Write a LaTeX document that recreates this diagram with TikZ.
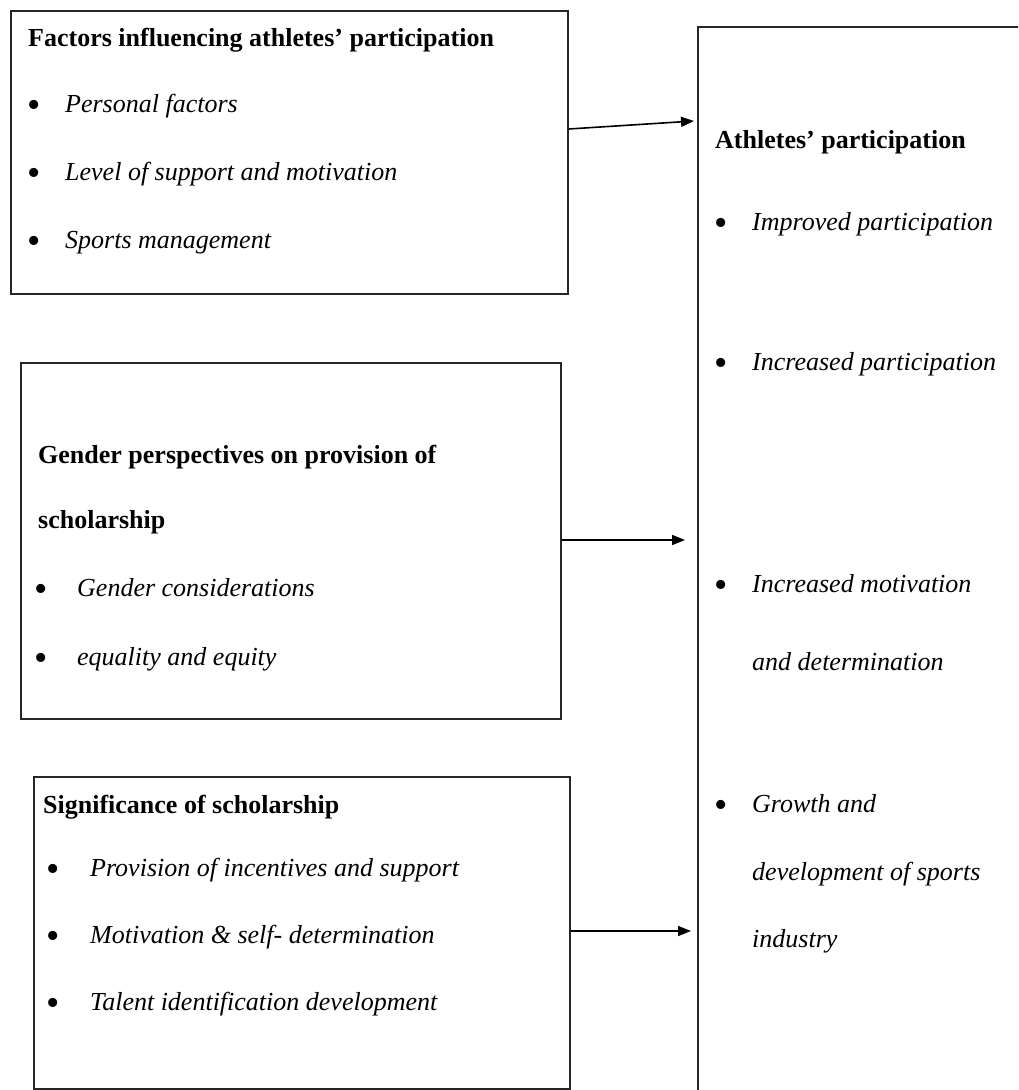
\documentclass[tikz,border=0pt]{standalone}
\usepackage{fontspec}
\setmainfont{Liberation Serif}
\usetikzlibrary{arrows.meta}
\begin{document}
\begin{tikzpicture}[x=1pt,y=-1pt,
  box/.style={draw=black!85,line width=1.8pt,inner sep=0pt,anchor=north west},
  ttl/.style={anchor=base west,inner sep=0pt,font=\fontsize{26}{30}\selectfont\bfseries},
  itm/.style={anchor=base west,inner sep=0pt,font=\fontsize{26}{30}\selectfont\itshape},
  bul/.style={anchor=base,inner sep=0pt,yshift=-5pt,font=\fontsize{38}{38}\selectfont},
  arr/.style={line width=1.6pt,-{Triangle[length=13pt,width=10pt]}}]
\clip (0,0) rectangle (1018,1090);
\fill[white] (0,0) rectangle (1018,1090);
% boxes
\node[box,minimum width=557pt,minimum height=283pt] (b1) at (10,10) {};
\node[box,minimum width=540pt,minimum height=356pt] (b2) at (20,362) {};
\node[box,minimum width=536pt,minimum height=312pt] (b3) at (33,776) {};
\node[box,minimum width=420pt,minimum height=1120pt] (rb) at (697,26) {};
% box 1 text
\node[ttl] (t1) at (28,46) {Factors influencing athletes’ participation};
\node[bul] (b1d1) at (34,112) {\textbullet};
\node[itm] (b1i1) at (65,112) {Personal factors};
\node[bul] (b1d2) at (34,180) {\textbullet};
\node[itm] (b1i2) at (65,180) {Level of support and motivation};
\node[bul] (b1d3) at (34,248) {\textbullet};
\node[itm] (b1i3) at (65,248) {Sports management};
% box 2 text
\node[ttl] (t2a) at (38,463) {Gender perspectives on provision of};
\node[ttl] (t2b) at (38,528) {scholarship};
\node[bul] (b2d1) at (41,596) {\textbullet};
\node[itm] (b2i1) at (77,596) {Gender considerations};
\node[bul] (b2d2) at (41,665) {\textbullet};
\node[itm] (b2i2) at (77,665) {equality and equity};
% box 3 text
\node[ttl] (t3) at (43,813) {Significance of scholarship};
\node[bul] (b3d1) at (53,876) {\textbullet};
\node[itm] (b3i1) at (90,876) {Provision of incentives and support};
\node[bul] (b3d2) at (53,943) {\textbullet};
\node[itm] (b3i2) at (90,943) {Motivation \& self- determination};
\node[bul] (b3d3) at (53,1010) {\textbullet};
\node[itm] (b3i3) at (90,1010) {Talent identification development};
% right box text
\node[ttl] (t4) at (715,148) {Athletes’ participation};
\node[bul] (rd1) at (721,230) {\textbullet};
\node[itm] (ri1) at (752,230) {Improved participation};
\node[bul] (rd2) at (721,370) {\textbullet};
\node[itm] (ri2) at (752,370) {Increased participation};
\node[bul] (rd3) at (721,592) {\textbullet};
\node[itm] (ri3a) at (752,592) {Increased motivation};
\node[itm] (ri3b) at (752,670) {and determination};
\node[bul] (rd4) at (721,812) {\textbullet};
\node[itm] (ri4a) at (752,812) {Growth and};
\node[itm] (ri4b) at (752,880) {development of sports};
\node[itm] (ri4c) at (752,947) {industry};
% arrows
\draw[arr] ([yshift=-119pt]b1.north east) -- ([xshift=-3pt,yshift=-95pt]rb.north west);
\draw[arr] ([yshift=-178pt]b2.north east) -- ([xshift=-12pt,yshift=-514pt]rb.north west);
\draw[arr] ([yshift=-155pt]b3.north east) -- ([xshift=-6pt,yshift=-905pt]rb.north west);
\end{tikzpicture}
\end{document}
